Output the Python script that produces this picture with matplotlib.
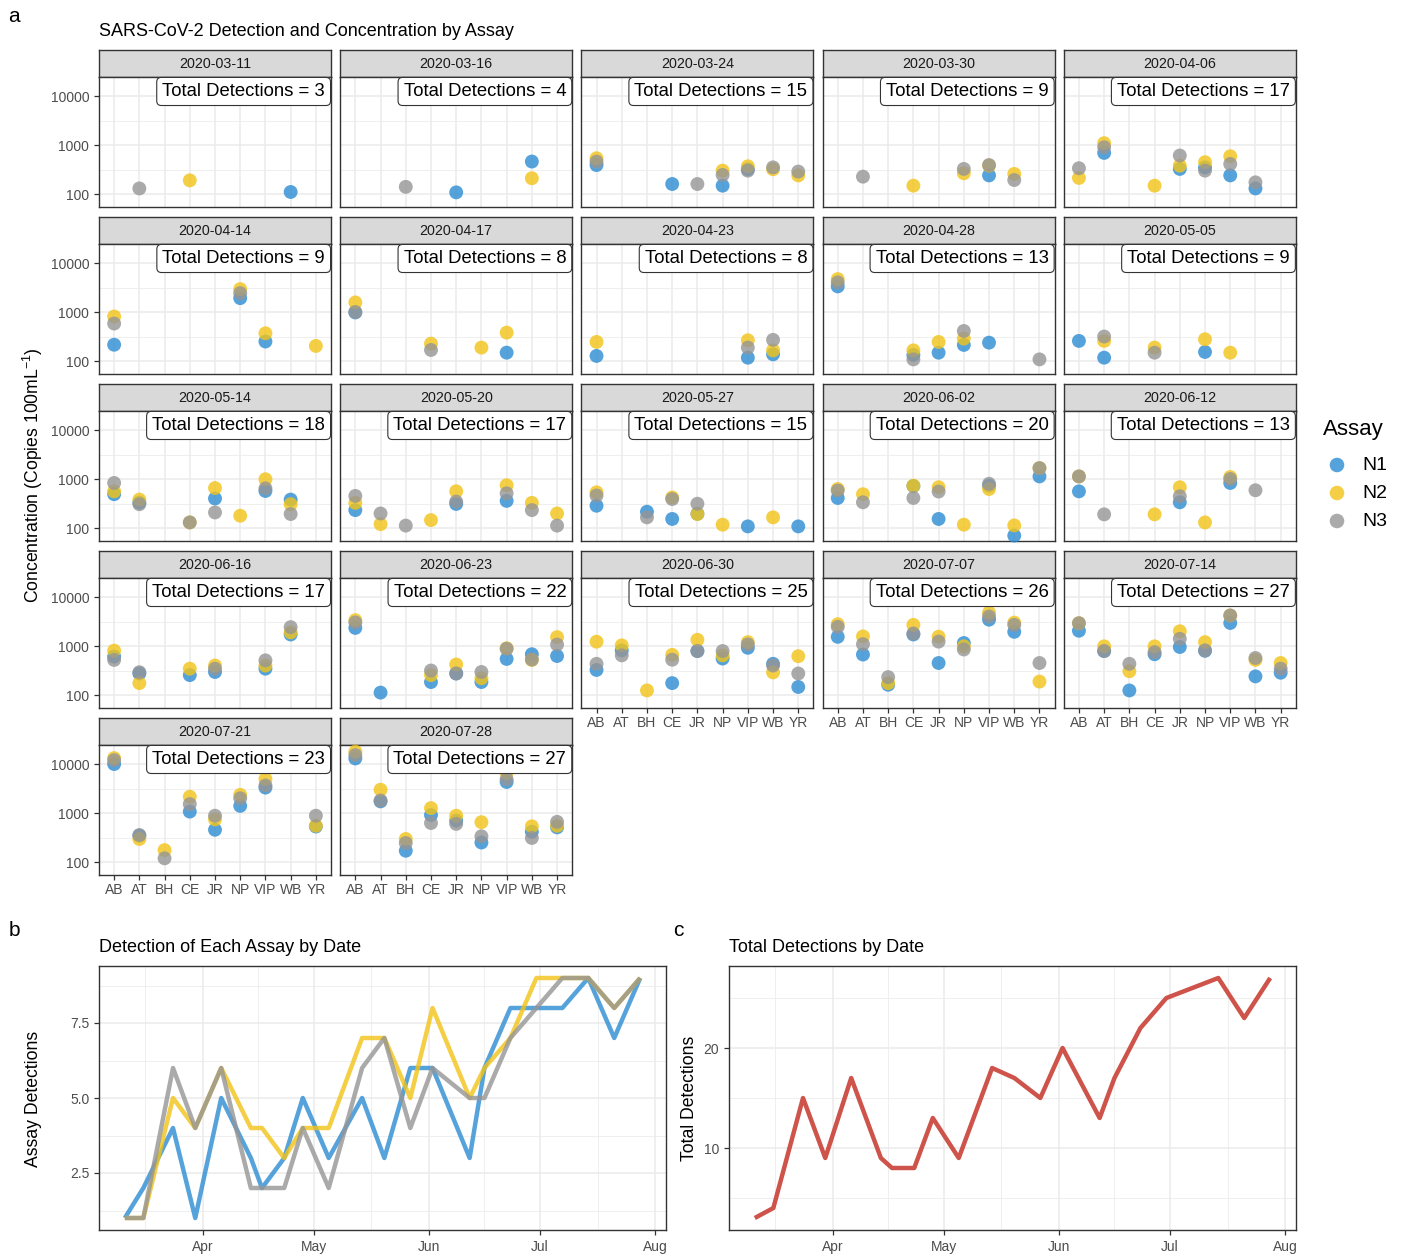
import numpy as np
import pandas as pd
import matplotlib
matplotlib.use('Agg')
import matplotlib.pyplot as plt
import matplotlib.dates as mdates
from matplotlib.ticker import FixedLocator, NullFormatter, NullLocator

plt.rcParams['font.family'] = ['Liberation Sans', 'DejaVu Sans']
plt.rcParams['mathtext.fontset'] = 'custom'
plt.rcParams['mathtext.rm'] = 'Liberation Sans'

_ = np.nan

sites = ['AB', 'AT', 'BH', 'CE', 'JR', 'NP', 'VIP', 'WB', 'YR']
dates = ['2020-03-11', '2020-03-16', '2020-03-24', '2020-03-30', '2020-04-06',
         '2020-04-14', '2020-04-17', '2020-04-23', '2020-04-28', '2020-05-05',
         '2020-05-14', '2020-05-20', '2020-05-27', '2020-06-02', '2020-06-12',
         '2020-06-16', '2020-06-23', '2020-06-30', '2020-07-07', '2020-07-14',
         '2020-07-21', '2020-07-28']

# copies / 100 mL per sampling date, one column per site (nan = not detected)
n1 = [
    [_, _, _, _, _, _, _, 110, _],
    [_, _, _, _, 108, _, _, 460, _],
    [390, _, _, 160, _, 148, 320, _, _],
    [_, _, _, _, _, _, 240, _, _],
    [_, 690, _, _, 325, 350, 240, 130, _],
    [215, _, _, _, _, 1920, 250, _, _],
    [980, _, _, _, _, _, 148, _, _],
    [127, _, _, _, _, _, 117, 137, _],
    [3330, _, _, 133, 148, 213, 237, _, _],
    [257, 117, _, _, _, 153, _, _, _],
    [490, 330, _, _, 400, _, 570, 380, _],
    [232, _, _, _, 310, _, 358, _, _],
    [285, _, 215, 153, 195, _, 108, _, 108],
    [410, _, _, 720, 153, _, 730, 70, 1130],
    [560, _, _, _, 335, _, 830, _, _],
    [610, 275, _, 255, 295, _, 345, 1720, _],
    [2340, 112, _, 184, 275, 184, 545, 680, 625],
    [325, 815, _, 175, 790, 555, 920, 433, 146],
    [1540, 670, 162, 1720, 450, 1150, 3450, 1950, _],
    [2050, 790, 124, 680, 955, 800, 2950, 240, 285],
    [10000, 345, _, 1070, 455, 1400, 3300, _, 530],
    [13000, 1730, 170, 910, 700, 250, 4300, 415, 510],
]
n2 = [
    [_, _, _, 190, _, _, _, _, _],
    [_, _, _, _, _, _, _, 210, _],
    [537, _, _, _, _, 300, 368, 320, 240],
    [_, _, _, 148, _, 265, 380, 257, _],
    [213, 1090, _, 148, 380, 446, 590, _, _],
    [810, _, _, _, _, 2940, 368, _, 203],
    [1570, _, _, 226, _, 188, 380, _, _],
    [245, _, _, _, _, _, 265, 165, _],
    [4700, _, _, 165, 245, 287, _, _, _],
    [_, 257, _, 188, _, 278, 148, _, _],
    [560, 380, _, 130, 655, 178, 990, 306, _],
    [326, 120, _, 145, 562, _, 745, 326, 198],
    [535, _, _, 420, 193, 117, _, 165, _],
    [625, 490, _, 730, 680, 117, 625, 113, 1670],
    [1130, _, _, 190, 680, 130, 1100, _, _],
    [805, 175, _, 345, 400, _, 400, 1900, _],
    [3370, _, _, 255, 420, 220, 900, 520, 1520],
    [1225, 1030, 124, 660, 1340, 645, 1200, 290, 620],
    [2790, 1570, 175, 2700, 1550, 985, 4800, 3000, 188],
    [2920, 985, 306, 985, 2000, 1200, 4200, 520, 450],
    [13200, 295, 175, 2150, 740, 2350, 4950, _, 550],
    [17900, 2990, 295, 1260, 880, 650, 6550, 535, 550],
]
n3 = [
    [_, 130, _, _, _, _, _, _, _],
    [_, _, 140, _, _, _, _, _, _],
    [458, _, _, _, 160, 245, 300, 350, 287],
    [_, 226, _, _, _, 325, 390, 193, _],
    [336, 900, _, _, 610, 300, 410, 173, _],
    [582, _, _, _, _, 2430, _, _, _],
    [1000, _, _, 168, _, _, _, _, _],
    [_, _, _, _, _, _, 188, 270, _],
    [4020, _, _, 108, _, 410, _, _, 108],
    [_, 316, _, 148, _, _, _, _, _],
    [830, 306, _, 130, 208, _, 645, 193, _],
    [452, 198, 112, _, 346, _, 510, 232, 112],
    [460, _, 165, 390, 313, _, _, _, _],
    [580, 335, _, 410, 555, _, 800, _, 1670],
    [1130, 190, _, _, 445, _, 1000, 590, _],
    [520, 292, _, _, 345, _, 510, 2430, _],
    [3030, _, _, 316, 275, 295, 880, 530, 1070],
    [433, 645, _, 525, 790, 790, 1075, 400, 275],
    [2460, 1090, 232, 1800, 1230, 850, 4000, 2700, 450],
    [2920, 790, 433, 750, 1400, 815, 4200, 570, 345],
    [12000, 355, 119, 1520, 880, 2000, 3650, _, 880],
    [15200, 1800, 244, 625, 600, 335, 4900, 310, 660],
]

assays = ['N1', 'N2', 'N3']
colours = {'N1': '#2C8CD4', 'N2': '#F2C417', 'N3': '#959595'}
conc = {'N1': np.array(n1, float), 'N2': np.array(n2, float), 'N3': np.array(n3, float)}

# detections per assay and in total for each date
det = {a: (~np.isnan(conc[a])).sum(axis=1) for a in assays}
total = det['N1'] + det['N2'] + det['N3']

W, H = 1403, 1255
fig = plt.figure(figsize=(W / 100, H / 100), dpi=100)


def px_axes(x0, y0, x1, y1):
    return fig.add_axes([x0 / W, 1 - y1 / H, (x1 - x0) / W, (y1 - y0) / H])


def frame(ax):
    for s in ax.spines.values():
        s.set_color('#333333')
        s.set_linewidth(1.0)


grid_kw = dict(color='#EBEBEB', linewidth=1.1)
tick_kw = dict(length=3.5, width=0.9, color='#333333', labelcolor='#4D4D4D', labelsize=10)

# ---- a: faceted concentrations ----
xpos = np.arange(1, len(sites) + 1)
for k, day in enumerate(dates):
    row, col = divmod(k, 5)
    left = 99 + col * 241.2
    top = 50 + row * 167

    strip = px_axes(left, top, left + 232, top + 27)
    strip.set_facecolor('#D9D9D9')
    strip.set_xticks([])
    strip.set_yticks([])
    frame(strip)
    strip.text(0.5, 0.47, day, ha='center', va='center', fontsize=10.3,
               color='#1A1A1A', transform=strip.transAxes)

    ax = px_axes(left, top + 27, left + 232, top + 157)
    ax.set_yscale('log')
    ax.set_xlim(0.4, 9.6)
    ax.set_ylim(10 ** 1.735, 10 ** 4.388)
    ax.set_xticks(xpos)
    ax.xaxis.set_minor_locator(NullLocator())
    ax.set_yticks([100, 1000, 10000])
    ax.yaxis.set_minor_locator(FixedLocator([10 ** 2.5, 10 ** 3.5]))
    ax.yaxis.set_minor_formatter(NullFormatter())
    ax.grid(True, which='major', **grid_kw)
    ax.grid(True, which='minor', axis='y', color='#EBEBEB', linewidth=0.55)
    ax.set_axisbelow(True)
    frame(ax)
    ax.tick_params(**tick_kw)
    ax.tick_params(which='minor', length=0)

    if col == 0:
        ax.set_yticklabels(['100', '1000', '10000'])
    else:
        ax.tick_params(axis='y', length=0, labelleft=False)
    if k + 5 >= len(dates):
        ax.set_xticklabels(sites)
        ax.tick_params(axis='x', pad=2)
    else:
        ax.tick_params(axis='x', length=0, labelbottom=False)

    for a in assays:
        ax.scatter(xpos, conc[a][k], s=100, color=colours[a], alpha=0.8,
                   edgecolors='none', zorder=3, clip_on=False)

    ax.annotate(f'Total Detections = {total[k]}', xy=(1, 1), xycoords='axes fraction',
                xytext=(-4.3, -4.3), textcoords='offset points', ha='right', va='top',
                fontsize=13.3, color='black', zorder=5,
                bbox=dict(boxstyle='round,pad=0.3,rounding_size=0.25', fc='white',
                          ec='#333333', lw=0.8))

# ---- b and c: detections over time ----
when = pd.to_datetime(dates)
mids = mdates.date2num(pd.to_datetime(['2020-03-16 12:00', '2020-04-16 00:00',
                                       '2020-05-16 12:00', '2020-06-16 00:00',
                                       '2020-07-16 12:00']))


def time_axes(ax, yticks, yminor, ylim, fmt):
    ax.set_xlim(pd.Timestamp('2020-03-04 01:00'), pd.Timestamp('2020-08-03 23:00'))
    ax.set_ylim(*ylim)
    ax.xaxis.set_major_locator(mdates.MonthLocator())
    ax.xaxis.set_major_formatter(mdates.DateFormatter('%b'))
    ax.xaxis.set_minor_locator(FixedLocator(mids))
    ax.set_yticks(yticks)
    ax.set_yticklabels([fmt.format(t) for t in yticks])
    ax.yaxis.set_minor_locator(FixedLocator(yminor))
    ax.grid(True, which='major', **grid_kw)
    ax.grid(True, which='minor', color='#EBEBEB', linewidth=0.55)
    ax.set_axisbelow(True)
    frame(ax)
    ax.tick_params(**tick_kw)
    ax.tick_params(which='minor', length=0)


axb = px_axes(99, 966, 666, 1230)
for a in assays:
    axb.plot(when, det[a], color=colours[a], lw=3.2, alpha=0.8,
             solid_joinstyle='round', solid_capstyle='butt')
time_axes(axb, [2.5, 5.0, 7.5], [1.25, 3.75, 6.25, 8.75], (0.6, 9.4), '{:.1f}')

axc = px_axes(729, 966, 1296, 1230)
axc.plot(when, total, color='#CC4A40', lw=3.2, alpha=0.95,
         solid_joinstyle='round', solid_capstyle='butt')
time_axes(axc, [10, 20], [5, 15, 25], (1.8, 28.2), '{:.0f}')

# ---- titles, panel letters, axis titles, legend ----
over = fig.add_axes([0, 0, 1, 1], zorder=10)
over.set_xlim(0, W)
over.set_ylim(H, 0)
over.axis('off')

over.text(14, 16, 'a', fontsize=15, ha='center', va='center')
over.text(14, 931, 'b', fontsize=15, ha='center', va='center')
over.text(678, 931, 'c', fontsize=15, ha='center', va='center')

over.text(99, 32, 'SARS-CoV-2 Detection and Concentration by Assay', fontsize=13, va='center')
over.text(99, 947, 'Detection of Each Assay by Date', fontsize=13, va='center')
over.text(729, 947, 'Total Detections by Date', fontsize=13, va='center')

over.text(33, 475, r'Concentration (Copies 100mL$^{-1}$)', fontsize=12.7,
          rotation=90, ha='center', va='center')
over.text(33, 1099, 'Assay Detections', fontsize=12.7, rotation=90, ha='center', va='center')
over.text(690, 1098, 'Total Detections', fontsize=12.7, rotation=90, ha='center', va='center')

over.text(1323, 430, 'Assay', fontsize=16, va='center')
for i, a in enumerate(assays):
    y = 465 + 28 * i
    over.scatter([1337], [y], s=110, color=colours[a], alpha=0.8, edgecolors='none')
    over.text(1362, y, a, fontsize=14, va='center')

fig.savefig('out.png', dpi=100)
